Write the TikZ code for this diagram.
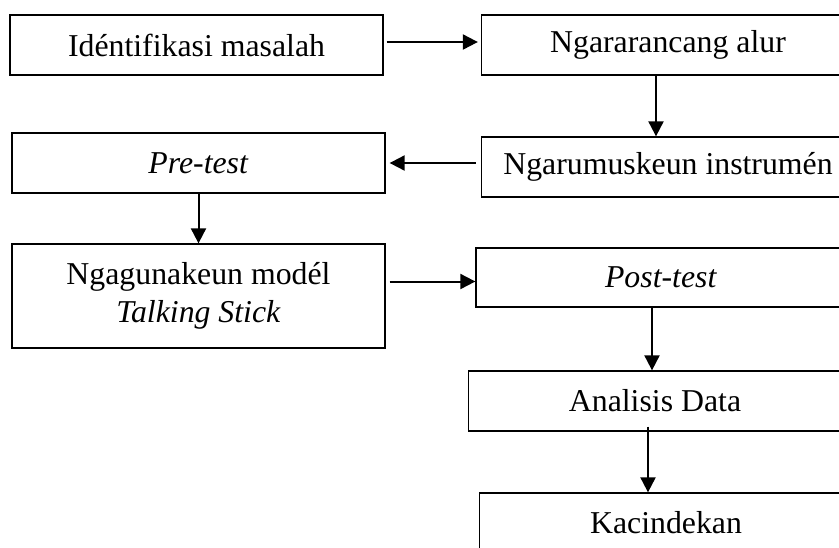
\documentclass[tikz,border=0pt]{standalone}
\usepackage{fontspec}
\setmainfont{Liberation Serif}
\usepackage{tikz}
\usetikzlibrary{arrows.meta, positioning}

\begin{document}
\begin{tikzpicture}[
  x=0.5pt, y=-0.5pt,
  box/.style={rectangle, draw, line width=0.65pt, minimum width=186.5pt,
              minimum height=30pt, inner sep=0pt, align=center,
              font=\fontsize{15.9}{19}\selectfont},
  arr/.style={-{Triangle[length=7.5pt, width=7.5pt]}, line width=1pt},
]
  \path[use as bounding box, clip] (0,0) rectangle (839,547);

  \node[box] (idm)   at (196.5,45)  {Idéntifikasi masalah};
  \node[box] (alur)  at (668,45)    {Ngararancang alur};
  \node[box] (instr) at (668,167)   {Ngarumuskeun instrumén};
  \node[box] (pre)   at (198.5,163) {\textit{Pre-test}};
  \node[box, minimum height=52pt] (model) at (198.5,296)
        {Ngagunakeun modél\\\textit{Talking Stick}};
  \node[box, minimum width=185pt, minimum height=29.5pt] (post) at (661,277.5) {\textit{Post-test}};
  \node[box] (anal)  at (655,401)   {Analisis Data};
  \node[box] (kac)   at (666,523)   {Kacindekan};

  \draw[arr, shorten <=1.5pt, shorten >=1.5pt] ([yshift=1.5pt]idm.east) -- ([yshift=1.5pt]alur.west);
  \draw[arr] ([xshift=-6pt]alur.south) -- ([xshift=-6pt]instr.north);
  \draw[arr, shorten <=2.5pt, shorten >=2pt] (instr.west |- pre.east) -- (pre.east);
  \draw[arr] (pre) -- (model);
  \draw[arr, shorten <=2pt] ([yshift=-2pt]model.east |- post.west) -- ([yshift=-2pt]post.west);
  \draw[arr] ([xshift=-1.5pt]anal.north |- post.south) -- ([xshift=-1.5pt]anal.north);
  \draw[arr] ([xshift=-3.5pt,yshift=2.5pt]anal.south) -- ([xshift=-3.5pt]anal.south |- kac.north);
\end{tikzpicture}
\end{document}
